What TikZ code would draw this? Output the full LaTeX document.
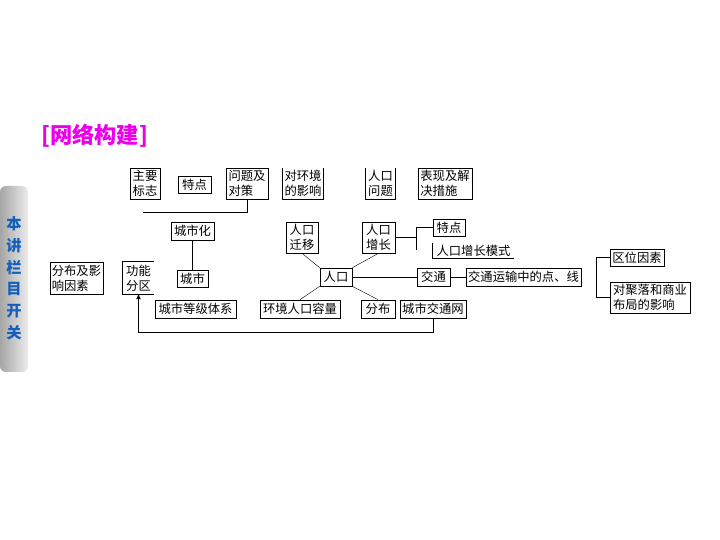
\documentclass[tikz,border=0pt]{standalone}
\usepackage{fontspec}
\newfontfamily\cjk{Noto Sans CJK SC}
\usetikzlibrary{arrows}

\definecolor{titlemag}{RGB}{235,0,235}
\definecolor{sideblue}{RGB}{20,95,185}

\begin{document}
\begin{tikzpicture}[x=0.03cm, y=-0.03cm, line width=.6pt,
  font=\cjk\fontsize{10.5}{13}\selectfont,
  box/.style={draw, inner sep=0pt, align=left},
  openbox/.style={box, draw=none},
  thinline/.style={line width=.35pt}]

\useasboundingbox (0,0) rectangle (720,540);

% sidebar
\shade[left color=gray!70, right color=gray!15, rounded corners=5pt] (0,186) rectangle (28,372);
\foreach \c [count=\i] in {本,讲,栏,目,开,关}
  \node[text=sideblue, font=\cjk\bfseries\fontsize{13}{13}\selectfont] (s\i) at (14,202+21.8*\i) {\c};

\node[anchor=west, text=titlemag, font=\cjk\bfseries\fontsize{19}{20}\selectfont] (title) at (37,136) {[网络构建]};

% top row
\node[box, minimum width=.9cm, minimum height=.93cm] (zybz) at (145,183.5) {主要\\标志};
\node[box, minimum width=.99cm, minimum height=.51cm] (td1) at (194.5,184.5) {特点};
\node[box, minimum width=1.26cm, minimum height=.93cm] (wtdc) at (247,183.5) {问题及\\对策};
\node[openbox, minimum width=1.2cm, minimum height=.93cm] (dhj) at (303,183.5) {对环境\\的影响};
\node[openbox, minimum width=.87cm, minimum height=.93cm] (rkwt) at (380.5,183.5) {人口\\问题};
\node[box, minimum width=1.62cm, minimum height=.93cm] (bxjj) at (445,183.5) {表现及解\\决措施};
\draw (dhj.north west) -- (dhj.south west) -- (dhj.south east) -- (dhj.north east);
\draw (rkwt.north west) -- (rkwt.south west) -- (rkwt.south east) -- (rkwt.north east);

\coordinate (e1) at (143,212);
\draw (wtdc.south) |- (e1);

% city part
\node[box, minimum width=1.29cm, minimum height=.54cm] (csh) at (192.5,231) {城市化};
\node[box, minimum width=.93cm, minimum height=.51cm] (cs) at (192.5,278.5) {城市};
\node[openbox, minimum width=.93cm, minimum height=.96cm] (gnfq) at (138.5,278) {功能\\分区};
\node[box, minimum width=1.59cm, minimum height=.96cm] (fbyx) at (76.5,278) {分布及影\\响因素};
\node[box, minimum width=2.43cm, minimum height=.54cm] (csdj) at (195.5,309) {城市等级体系};
\draw (gnfq.north east) -- (gnfq.north west) -- (gnfq.south west) -- (gnfq.south east);
\draw (csh) -- (cs);

% population part
\node[box, minimum width=.96cm, minimum height=.93cm] (rkqy) at (302,237.5) {人口\\迁移};
\node[box, minimum width=.99cm, minimum height=.93cm] (rkzz) at (378.5,237.5) {人口\\增长};
\node[box, minimum width=.96cm, minimum height=.54cm] (rk) at (336,277) {人口};
\node[box, minimum width=2.4cm, minimum height=.54cm] (hjrk) at (300,309) {环境人口容量};
\node[box, minimum width=1.02cm, minimum height=.54cm] (fb) at (378,309) {分布};
\node[box, minimum width=1.98cm, minimum height=.54cm] (csjt) at (433,309) {城市交通网};
\node[box, minimum width=.96cm, minimum height=.51cm] (td2) at (449,227.5) {特点};
\node[openbox, minimum width=2.43cm, minimum height=.45cm] (rkms) at (473.5,250.5) {人口增长模式};
\draw (rkms.north west) -- (rkms.south west) -- (rkms.south east);
\node[box, minimum width=.99cm, minimum height=.54cm] (jt) at (433.5,277) {交通};
\node[box, minimum width=3.45cm, minimum height=.54cm] (jtys) at (523.5,277) {交通运输中的点、线};

\draw[thinline] (rk.north west) -- (rkqy.south);
\draw[thinline] (rk.north east) -- (rkzz.south);
\draw[thinline] (rk.south west) -- (hjrk.north);
\draw[thinline] (rk.south east) -- (fb.north);
\draw (rk) -- (jt);
\draw (jt) -- (jtys);

\coordinate (b1) at (416,250);
\draw (td2.west) -| (b1);
\draw (rkzz.east) -- (rkzz.east -| b1);

% right part
\node[box, minimum width=1.62cm, minimum height=.51cm] (qwys) at (637,257.5) {区位因素};
\node[box, minimum width=2.4cm, minimum height=.93cm] (djsy) at (650,297.5) {对聚落和商业\\布局的影响};
\draw (qwys.west) -- ++(-13,0) |- (djsy.west);

\draw[-stealth'] (csjt.south) -- ++(0,14) -| (gnfq.south);

\end{tikzpicture}
\end{document}
